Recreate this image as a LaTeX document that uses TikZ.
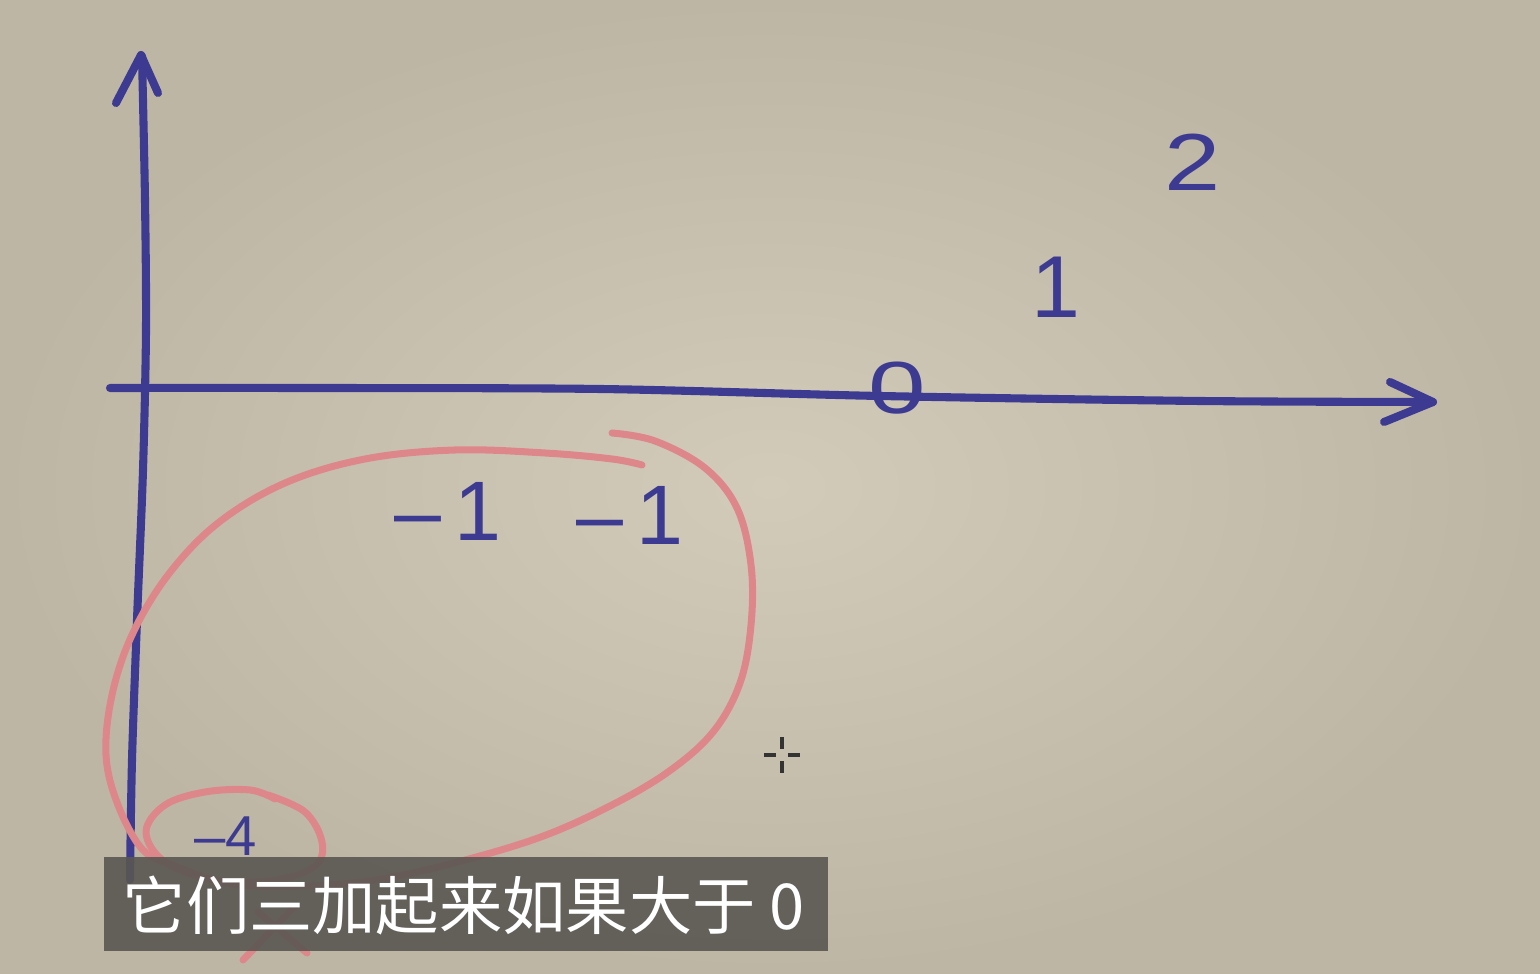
\documentclass[tikz,border=0pt]{standalone}
\usepackage{fontspec}
\setmainfont{Liberation Sans}
\newfontfamily\cjk{Noto Sans CJK SC}
\usepackage{tikz}
\definecolor{boardin}{HTML}{D3CBBA}
\definecolor{boardout}{HTML}{BEB6A4}
\definecolor{ink}{HTML}{3D3B91}
\definecolor{marker}{HTML}{DE878B}
\definecolor{capbg}{HTML}{5A5752}
\tikzset{
  every picture/.style={line join=round, line cap=round},
  pen/.style={draw=ink, line width=2.3pt},
  hilite/.style={draw=marker, line width=2pt},
  digit/.style={text=ink, inner sep=0pt},
  cursor/.style={draw=black!80, line width=1.2pt, line cap=butt},
}

\begin{document}
\begin{tikzpicture}[x=0.01cm, y=-0.01cm]
\useasboundingbox (0,0) rectangle (1540,974);
\shade[inner color=boardin, outer color=boardout] (0,0) rectangle (1540,974);
% axes
\draw[pen] plot[smooth] coordinates {(142,56) (145,200) (146,330) (143,470) (137,620) (132,760) (130,880)};
\draw[pen] (116,103) -- (141,55) -- (158,93);
\draw[pen] plot[smooth] coordinates {(110,388) (300,388) (600,389) (880,396) (1200,401) (1432,402)};
\draw[pen] (1390,382) -- (1433,402) -- (1384,422);
% numbers
\node[digit, font=\fontsize{23}{23}\selectfont] (two) at (1193,162) {\scalebox{1.25}[1]{2}};
\node[digit, font=\fontsize{25}{25}\selectfont] (one) at (1056,287) {1};
\node[digit, font=\fontsize{21}{21}\selectfont] (zero) at (897,388) {\scalebox{1.4}[1]{0}};
\node[digit, font=\fontsize{24}{24}\selectfont] (ma) at (448,511) {–\,1};
\node[digit, font=\fontsize{24}{24}\selectfont] (mb) at (630,515) {–\,1};
\node[digit, font=\fontsize{16}{16}\selectfont] (mfour) at (226,836) {–4};
% loops
\draw[hilite] plot[smooth, tension=0.6] coordinates {(612,433) (655,441) (705,468) (737,508) (751,565) (751,625) (740,683) (713,732) (668,772) (608,807) (538,838) (450,864) (375,880) (305,886) (232,884) (175,866) (143,850) (118,805) (106,755) (112,695) (132,635) (168,575) (218,523) (285,483) (365,459) (455,450) (545,453) (612,459) (642,465)};
\draw[hilite] plot[smooth, tension=0.6] coordinates {(275,799) (250,790) (205,792) (165,805) (146,832) (165,862) (215,880) (275,880) (315,866) (322,842) (305,812) (268,795)};
\draw[hilite] (243,960) -- (295,906);
\draw[hilite] (258,912) -- (307,953);
% cursor
\draw[cursor] (764,755) -- (776,755) (788,755) -- (800,755)
              (782,737) -- (782,749) (782,761) -- (782,773);
% caption
\fill[capbg, fill opacity=0.9] (104,857) rectangle (828,951);
\node[text=white, inner sep=0pt, anchor=west, font=\cjk\fontsize{18}{18}\selectfont] (caption) at (122,905) {它们三加起来如果大于 0};
\end{tikzpicture}
\end{document}
